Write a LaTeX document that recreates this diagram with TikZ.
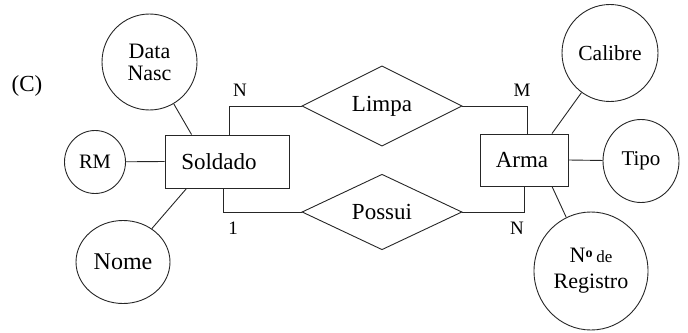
\documentclass[tikz,border=0pt]{standalone}
\usepackage{fontspec}
\setmainfont{Liberation Serif}
\usetikzlibrary{shapes.geometric}
\tikzset{
  ln/.style={line width=0.9pt, draw=black!85},
  attr/.style={ellipse, ln, inner sep=0pt, align=center, font=\fontsize{22}{24}\selectfont},
  ent/.style={rectangle, ln, inner sep=0pt, font=\fontsize{23}{24}\selectfont},
  rel/.style={diamond, ln, inner sep=0pt, font=\fontsize{23}{24}\selectfont},
  card/.style={inner sep=0pt, font=\fontsize{19}{20}\selectfont},
}
\begin{document}
\begin{tikzpicture}[x=1pt,y=-1pt]
\useasboundingbox (0,0) rectangle (688,332);
% entities
\node[ent, minimum width=124pt, minimum height=53pt] (sold) at (227,161.5) {Soldado\hspace*{16pt}};
\node[ent, minimum width=88pt, minimum height=52pt] (arma) at (524,160) {Arma\hspace*{4pt}};
% relationships
\node[rel, minimum width=160pt, minimum height=74pt] (limpa) at (382,106) {Limpa};
\node[rel, minimum width=160pt, minimum height=72pt] (possui) at (382,212) {Possui};
% attributes
\node[attr, minimum width=95pt, minimum height=96pt] (dn) at (149.5,62) {Data\\[-2pt]Nasc};
\node[attr, minimum width=61pt, minimum height=63pt, font=\fontsize{20.5}{22}\selectfont] (rm) at (95,162) {RM};
\node[attr, minimum width=94pt, minimum height=83pt, font=\fontsize{24}{26}\selectfont] (nome) at (123,262) {Nome};
\node[attr, minimum width=96pt, minimum height=97pt, font=\fontsize{21.5}{24}\selectfont] (cal) at (610,53) {Calibre};
\node[attr, minimum width=76pt, minimum height=83pt, font=\fontsize{21}{24}\selectfont] (tipo) at (641,161) {Tipo};
\node[attr, minimum width=114pt, minimum height=118pt] (nreg) at (591,271)
  {N\raisebox{5pt}{\bfseries\fontsize{14}{14}\selectfont o}\,{\fontsize{17}{17}\selectfont de}\\[2pt]Registro};
% cardinalities
\node[card] (cN1) at (240,90) {N};
\node[card] (c1) at (233,228) {1};
\node[card] (cM) at (522,90) {M};
\node[card] (cN2) at (517,228) {N};
\node[inner sep=0pt, font=\fontsize{23}{24}\selectfont] (lab) at (27,86) {(C)};
% connectors
\draw[ln] ([xshift=2pt]sold.north) |- (limpa.west);
\draw[ln] ([xshift=-4pt]sold.south) |- (possui.west);
\draw[ln] (limpa.east) -| ([xshift=3pt]arma.north);
\draw[ln] (possui.east) -| (arma.south);
\draw[ln] (dn) -- ([xshift=27pt]sold.north west);
\draw[ln] (rm) -- (sold.west);
\draw[ln] (nome) -- ([xshift=22pt]sold.south west);
\draw[ln] (cal) -- ([xshift=28pt]arma.north);
\draw[ln] (tipo) -- (arma.east);
\draw[ln] (nreg) -- ([xshift=28pt]arma.south);
\end{tikzpicture}
\end{document}
